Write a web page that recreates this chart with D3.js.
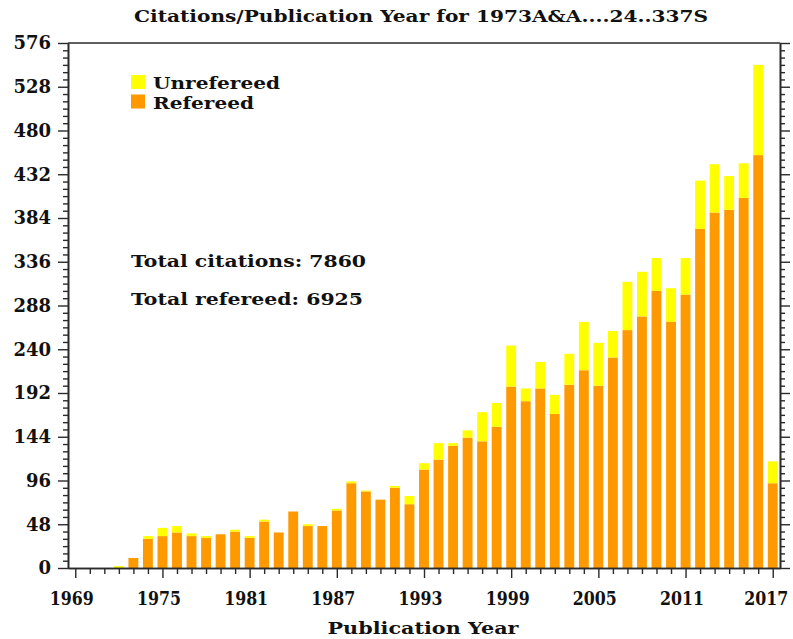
<!DOCTYPE html>
<html>
<head>
<meta charset="utf-8">
<script src="https://cdn.jsdelivr.net/npm/d3@7"></script>
<style>
  body { margin: 0; background: #fff; }
  svg { display: block; }
  text { font-family: "DejaVu Serif", "Liberation Serif", serif; font-weight: bold; fill: #111; }
</style>
</head>
<body>
<svg width="793" height="639"></svg>
<script>
// Citations per publication year, split into refereed and unrefereed
const years = [1969, 1970, 1971, 1972, 1973, 1974, 1975, 1976, 1977, 1978,
               1979, 1980, 1981, 1982, 1983, 1984, 1985, 1986, 1987, 1988,
               1989, 1990, 1991, 1992, 1993, 1994, 1995, 1996, 1997, 1998,
               1999, 2000, 2001, 2002, 2003, 2004, 2005, 2006, 2007, 2008,
               2009, 2010, 2011, 2012, 2013, 2014, 2015, 2016, 2017];
const refereed = [0, 0, 0, 0, 11, 32, 35, 39, 35, 33,
                  37, 40, 33, 51, 39, 62, 46, 46, 63, 93,
                  84, 75, 88, 70, 108, 119, 134, 143, 139, 155,
                  199, 183, 197, 169, 201, 217, 200, 231, 261, 276,
                  304, 270, 300, 372, 390, 393, 406, 453, 93];
const unrefereed = [0, 0, 0, 2, 0, 3, 9, 7, 3, 2,
                    0, 2, 2, 2, 0, 0, 2, 0, 2, 2,
                    1, 0, 2, 9, 7, 18, 3, 8, 32, 26,
                    45, 14, 29, 21, 34, 53, 47, 29, 53, 49,
                    36, 37, 40, 53, 53, 37, 38, 99, 24];
const yTickValues = [0, 48, 96, 144, 192, 240, 288, 336, 384, 432, 480, 528, 576];
const xTickValues = [1969, 1975, 1981, 1987, 1993, 1999, 2005, 2011, 2017];
const totalCitations = 7860;
const totalRefereed = 6925;
const titleText = "Citations/Publication Year for 1973A&A....24..337S";

const colors = { refereed: "#ff9900", unrefereed: "#ffff00" };

const svg = d3.select("svg");
const plotLeft = 68, plotRight = 780, plotTop = 43, plotBottom = 568;

const x = d3.scaleLinear().domain([1968.5, 2017.5]).range([plotLeft, plotRight]);
const y = d3.scaleLinear().domain([0, 576]).range([plotBottom, plotTop]);
const barW = (x(1970) - x(1969)) * 0.68;

// stacked bars
const table = years.map((yr, i) => ({ year: yr, refereed: refereed[i], unrefereed: unrefereed[i] }));
const stacked = d3.stack().keys(["refereed", "unrefereed"])(table);

svg.append("g").selectAll("g")
  .data(stacked)
  .join("g")
    .attr("fill", d => colors[d.key])
  .selectAll("rect")
  .data(d => d.filter(p => p[1] > p[0]))
  .join("rect")
    .attr("x", d => x(d.data.year) - barW / 2)
    .attr("width", barW)
    .attr("y", d => y(d[1]))
    .attr("height", d => y(d[0]) - y(d[1]));

// axes: minor and major ticks on left, right and bottom
const minorY = d3.range(0, 577, 8).filter(v => v % 48 !== 0);
const minorX = years.filter(v => !xTickValues.includes(v));

function styleAxis(g) {
  g.selectAll("path.domain").attr("stroke", "#2a2a2a").attr("stroke-width", 1.6);
  g.selectAll(".tick line").attr("stroke", "#2a2a2a").attr("stroke-width", 1.4);
}

svg.append("g").attr("transform", `translate(${plotLeft},0)`)
  .call(d3.axisLeft(y).tickValues(minorY).tickSize(5).tickSizeOuter(0).tickFormat(""))
  .call(styleAxis);
svg.append("g").attr("transform", `translate(${plotLeft},0)`)
  .call(d3.axisLeft(y).tickValues(yTickValues).tickSize(10).tickSizeOuter(0).tickPadding(7).tickFormat(d3.format("d")))
  .call(styleAxis)
  .call(g => g.selectAll("text").attr("font-size", 18).attr("font-family", null).attr("fill", "#111"));

svg.append("g").attr("transform", `translate(${plotRight},0)`)
  .call(d3.axisRight(y).tickValues(minorY).tickSize(5).tickSizeOuter(0).tickFormat(""))
  .call(styleAxis);
svg.append("g").attr("transform", `translate(${plotRight},0)`)
  .call(d3.axisRight(y).tickValues(yTickValues).tickSize(10).tickSizeOuter(0).tickFormat(""))
  .call(styleAxis);

svg.append("g").attr("transform", `translate(0,${plotBottom})`)
  .call(d3.axisBottom(x).tickValues(minorX).tickSize(6).tickSizeOuter(0).tickFormat(""))
  .call(styleAxis);
svg.append("g").attr("transform", `translate(0,${plotBottom})`)
  .call(d3.axisBottom(x).tickValues(xTickValues).tickSize(10).tickSizeOuter(0).tickPadding(14).tickFormat(d3.format("d")))
  .call(styleAxis)
  .call(g => g.selectAll("text")
    .attr("font-size", 18).attr("font-family", null).attr("fill", "#111")
    .attr("x", d => d === 2017 ? -7 : -4)
    .attr("textLength", 44).attr("lengthAdjust", "spacingAndGlyphs"));

// top frame line
svg.append("line")
  .attr("x1", plotLeft).attr("x2", plotRight).attr("y1", plotTop).attr("y2", plotTop)
  .attr("stroke", "#2a2a2a").attr("stroke-width", 1.6);

// title and axis title
svg.append("text")
  .attr("x", (plotLeft + plotRight) / 2 - 3).attr("y", 22)
  .attr("text-anchor", "middle").attr("font-size", 16)
  .attr("textLength", 574).attr("lengthAdjust", "spacingAndGlyphs")
  .text(titleText);

svg.append("text")
  .attr("x", (plotLeft + plotRight) / 2 - 1).attr("y", 634)
  .attr("text-anchor", "middle").attr("font-size", 17)
  .attr("textLength", 191).attr("lengthAdjust", "spacingAndGlyphs")
  .text("Publication Year");

// legend
const legend = [
  { key: "unrefereed", label: "Unrefereed", y: 75, w: 127 },
  { key: "refereed", label: "Refereed", y: 94.5, w: 101 }
];
const lg = svg.append("g");
lg.selectAll("rect").data(legend).join("rect")
  .attr("x", 131).attr("y", d => d.y).attr("width", 14).attr("height", 14)
  .attr("fill", d => colors[d.key]);
lg.selectAll("text").data(legend).join("text")
  .attr("x", 153).attr("y", d => d.y + 14)
  .attr("font-size", 17)
  .attr("textLength", d => d.w).attr("lengthAdjust", "spacingAndGlyphs")
  .text(d => d.label);

// totals
svg.append("text")
  .attr("x", 131).attr("y", 267).attr("font-size", 17)
  .attr("textLength", 235).attr("lengthAdjust", "spacingAndGlyphs")
  .text(`Total citations: ${totalCitations}`);
svg.append("text")
  .attr("x", 131).attr("y", 305).attr("font-size", 17)
  .attr("textLength", 232).attr("lengthAdjust", "spacingAndGlyphs")
  .text(`Total refereed: ${totalRefereed}`);
</script>
</body>
</html>
